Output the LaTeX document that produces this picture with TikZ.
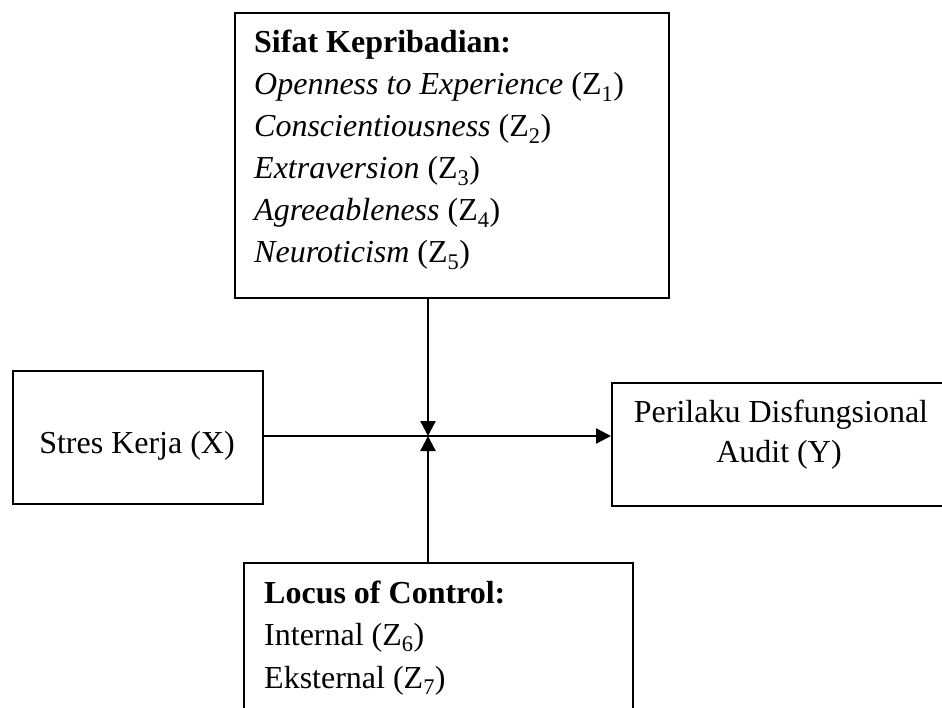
\documentclass[tikz,border=0pt]{standalone}
\usepackage{fontspec}
\setmainfont{Liberation Serif}
\usetikzlibrary{arrows.meta}
\begin{document}
\begin{tikzpicture}[x=1pt,y=-1pt,
  box/.style={draw=black,line width=2pt,rectangle,inner sep=0pt},
  txt/.style={inner sep=0pt,font=\fontsize{32}{42}\selectfont},
  arr/.style={line width=2.4pt,-{Triangle[length=15pt,width=15pt]}}]
\useasboundingbox (0,0) rectangle (942,708);
\clip (0,0) rectangle (942,708);
% boxes
\node[box,minimum width=434pt,minimum height=285pt,anchor=north west] (top) at (234,12) {};
\node[box,minimum width=250pt,minimum height=133pt,anchor=north west] (left) at (12,370) {};
\node[box,minimum width=340pt,minimum height=123pt,anchor=north west] (right) at (611,382) {};
\node[box,minimum width=389pt,minimum height=170pt,anchor=north west] (bot) at (243,562) {};
% top box text
\node[txt,anchor=base west] (t1) at (254,53) {\textbf{Sifat Kepribadian:}};
\node[txt,anchor=base west] (t2) at (254,95) {\textit{Openness to Experience} (Z\textsubscript{1})};
\node[txt,anchor=base west] (t3) at (254,137) {\textit{Conscientiousness} (Z\textsubscript{2})};
\node[txt,anchor=base west] (t4) at (254,179) {\textit{Extraversion} (Z\textsubscript{3})};
\node[txt,anchor=base west] (t5) at (254,221) {\textit{Agreeableness} (Z\textsubscript{4})};
\node[txt,anchor=base west] (t6) at (254,263) {\textit{Neuroticism} (Z\textsubscript{5})};
% bottom box text
\node[txt,anchor=base west] (b1) at (264,603) {\textbf{Locus of Control:}};
\node[txt,anchor=base west] (b2) at (264,645) {Internal (Z\textsubscript{6})};
\node[txt,anchor=base west] (b3) at (264,688) {Eksternal (Z\textsubscript{7})};
% left / right texts
\node[txt,anchor=base] (lx) at (137,453) {Stres Kerja (X)};
\node[txt,anchor=base] (ry1) at (781,422) {Perilaku Disfungsional};
\node[txt,anchor=base] (ry2) at (779,462) {Audit (Y)};
% connectors
\coordinate (m) at (428,436);
\draw[arr] (left.east |- m) -- (m -| right.west);
\draw[arr] (top.south -| m) -- (m);
\draw[arr] (bot.north -| m) -- (m);
\end{tikzpicture}
\end{document}
